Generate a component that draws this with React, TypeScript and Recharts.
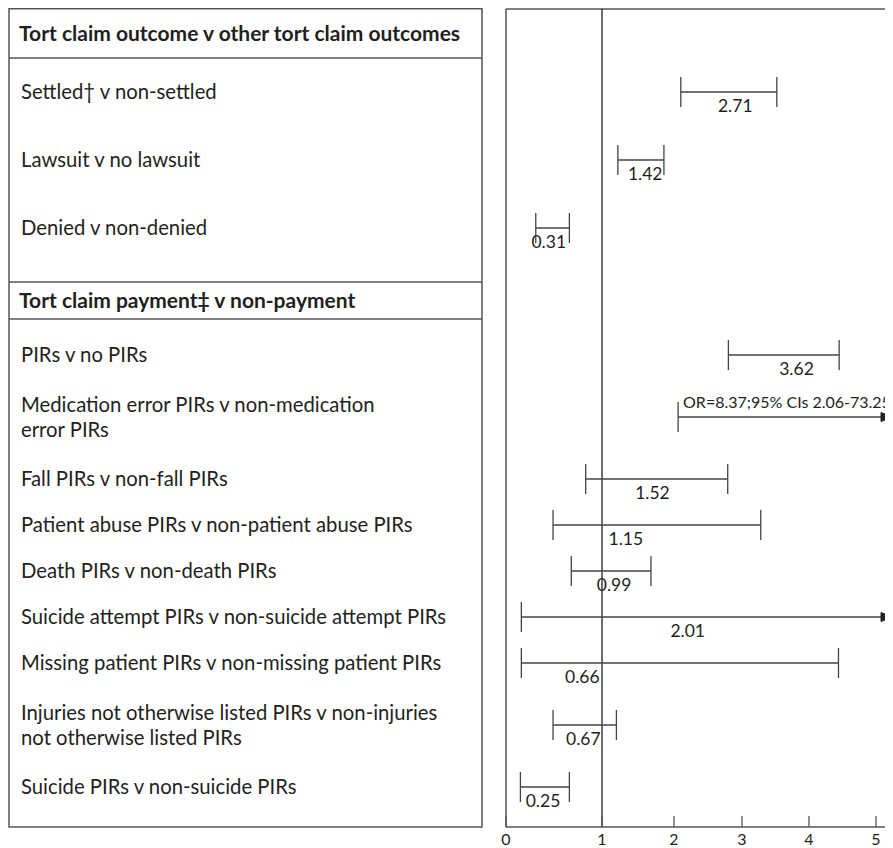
import React from 'react';
import { ComposedChart, Scatter, ErrorBar, XAxis, YAxis, ReferenceLine } from 'recharts';

// ---------- data ----------
const SECTION_TITLES = [
  'Tort claim outcome v other tort claim outcomes',
  'Tort claim payment‡ v non-payment',
];

const OUTCOME_LABELS = ['Settled† v non-settled', 'Lawsuit v no lawsuit', 'Denied v non-denied'];
const OUTCOME_OR = [2.71, 1.42, 0.31];
const OUTCOME_LO = [2.1, 1.22, 0.31];
const OUTCOME_HI = [3.52, 1.86, 0.66];

const PAYMENT_LABELS = [
  'PIRs v no PIRs',
  'Medication error PIRs v non-medication\nerror PIRs',
  'Fall PIRs v non-fall PIRs',
  'Patient abuse PIRs v non-patient abuse PIRs',
  'Death PIRs v non-death PIRs',
  'Suicide attempt PIRs v non-suicide attempt PIRs',
  'Missing patient PIRs v non-missing patient PIRs',
  'Injuries not otherwise listed PIRs v non-injuries\nnot otherwise listed PIRs',
  'Suicide PIRs v non-suicide PIRs',
];
const PAYMENT_OR = [3.62, 8.37, 1.52, 1.15, 0.99, 2.01, 0.66, 0.67, 0.25];
const PAYMENT_LO = [2.8, 2.06, 0.83, 0.49, 0.68, 0.16, 0.16, 0.49, 0.15];
const PAYMENT_HI = [4.45, 73.25, 2.79, 3.28, 1.68, 25.3, 4.44, 1.2, 0.66];

const X_TICKS = [0, 1, 2, 3, 4, 5];

// ---------- axis (irregularly spaced, as in the source figure) ----------
const AXIS_KNOTS = [0, 1, 2, 3, 4, 5, 5.25];
const AXIS_KNOT_FRACTIONS = [0, 0.2481, 0.4341, 0.6098, 0.7829, 0.9561, 1];
const X_MAX = AXIS_KNOTS[AXIS_KNOTS.length - 1];

function makeKnotScale(): any {
  let dom: number[] = [0, X_MAX];
  let rng: number[] = [0, 1];
  const scale: any = (v: number) => {
    const n = AXIS_KNOTS.length;
    let i = 0;
    while (i < n - 2 && v > AXIS_KNOTS[i + 1]) i++;
    const t = (v - AXIS_KNOTS[i]) / (AXIS_KNOTS[i + 1] - AXIS_KNOTS[i]);
    const f = AXIS_KNOT_FRACTIONS[i] + t * (AXIS_KNOT_FRACTIONS[i + 1] - AXIS_KNOT_FRACTIONS[i]);
    return rng[0] + f * (rng[1] - rng[0]);
  };
  scale.domain = (d?: number[]) => {
    if (d === undefined) return dom;
    dom = [...d];
    return scale;
  };
  scale.range = (r?: number[]) => {
    if (r === undefined) return rng;
    rng = [...r];
    return scale;
  };
  scale.copy = () => makeKnotScale().domain(dom).range(rng);
  scale.ticks = () => X_TICKS;
  return scale;
}

// ---------- layout ----------
const CHART_W = 886;
const CHART_H = 840;
const MARGIN = { top: 1, right: 1, bottom: 0, left: 0 };
const X_AXIS_H = 21;
const Y_AXIS_W = 498;
const PLOT_H = CHART_H - MARGIN.top - MARGIN.bottom - X_AXIS_H;
const TABLE_LEFT = 1;
const TABLE_RIGHT = 474;
const LINE_H = 25;
const EXTRA_LINE_H = 32;
const SECTION_STYLE = [
  { headerH: 49, rowH: 68, padTop: 0, padBottom: 20 },
  { headerH: 37, rowH: 46, padTop: 13, padBottom: 0 },
];
const FONT = 'Lato, "Open Sans", sans-serif';
const TEXT = '#231f20';
const BORDER = '#555';
const CI = '#444';

type TRow = {
  kind: 'header' | 'item';
  label: string;
  top: number;
  bottom: number;
  y: number;
  first?: boolean;
  or?: number;
  lo?: number;
  hi?: number;
};

const SECTIONS = [
  { title: SECTION_TITLES[0], labels: OUTCOME_LABELS, or: OUTCOME_OR, lo: OUTCOME_LO, hi: OUTCOME_HI },
  { title: SECTION_TITLES[1], labels: PAYMENT_LABELS, or: PAYMENT_OR, lo: PAYMENT_LO, hi: PAYMENT_HI },
];

function buildRows(): TRow[] {
  const rows: TRow[] = [];
  let cursor = 0;
  SECTIONS.forEach((sec, si) => {
    const st = SECTION_STYLE[si];
    rows.push({ kind: 'header', label: sec.title, top: cursor, bottom: cursor + st.headerH, y: cursor + st.headerH / 2, first: si === 0 });
    cursor += st.headerH + st.padTop;
    sec.labels.forEach((lab, i) => {
      const lines = lab.split('\n').length;
      const h = st.rowH + (lines - 1) * EXTRA_LINE_H;
      rows.push({ kind: 'item', label: lab, top: cursor, bottom: cursor + h, y: cursor + h / 2, or: sec.or[i], lo: sec.lo[i], hi: sec.hi[i] });
      cursor += h;
    });
    cursor += st.padBottom;
  });
  return rows;
}

const ROWS = buildRows();
const ITEMS = ROWS.filter((r) => r.kind === 'item');

const ciData = ITEMS.map((r) => ({
  x: r.or as number,
  y: r.y,
  err: [(r.or as number) - (r.lo as number), (r.hi as number) - (r.or as number)],
}));
const overflowLabelData = ITEMS.filter((r) => (r.or as number) > X_MAX).map((r) => ({
  x: r.lo as number,
  y: r.y,
  text: `OR=${(r.or as number).toFixed(2)};95% CIs ${(r.lo as number).toFixed(2)}-${(r.hi as number).toFixed(2)}`,
}));
const arrowData = ITEMS.filter((r) => (r.hi as number) > X_MAX).map((r) => ({ x: X_MAX, y: r.y }));

// ---------- custom renderers ----------
function TableTick(props: any) {
  const { y, payload } = props;
  const row = ROWS.find((r) => Math.abs(r.y - payload.value) < 1e-6);
  if (!row) return null;
  if (row.kind === 'header') {
    const top = y - (row.y - row.top);
    const bottom = y + (row.bottom - row.y);
    return (
      <g>
        {row.first ? (
          <rect x={TABLE_LEFT} y={0.75} width={TABLE_RIGHT - TABLE_LEFT} height={MARGIN.top + PLOT_H - 0.75} fill="none" stroke={BORDER} strokeWidth={1.5} />
        ) : (
          <line x1={TABLE_LEFT} x2={TABLE_RIGHT} y1={top} y2={top} stroke={BORDER} strokeWidth={1.5} />
        )}
        <line x1={TABLE_LEFT} x2={TABLE_RIGHT} y1={bottom} y2={bottom} stroke={BORDER} strokeWidth={1.5} />
        <text x={11} y={y} dy="0.35em" fontFamily={FONT} fontWeight={700} fontSize={21} fill={TEXT}>
          {row.label}
        </text>
      </g>
    );
  }
  const lines = row.label.split('\n');
  return (
    <g>
      {lines.map((ln, i) => (
        <text key={i} x={13} y={y + (i - (lines.length - 1) / 2) * LINE_H} dy="0.35em" fontFamily={FONT} fontSize={20.3} fill={TEXT}>
          {ln}
        </text>
      ))}
    </g>
  );
}

function XTick(props: any) {
  const { x, y, payload } = props;
  return (
    <g>
      <line x1={x} x2={x} y1={y} y2={y - 11} stroke={BORDER} strokeWidth={1.3} />
      <text x={x} y={y + 18} textAnchor="middle" fontFamily={FONT} fontSize={16} fill={TEXT}>
        {payload.value}
      </text>
    </g>
  );
}

function OrLabel(props: any) {
  const { cx, cy, payload } = props;
  if (payload.x > X_MAX) return <g />;
  return (
    <text x={cx + 13} y={cy + 20} textAnchor="middle" fontFamily={FONT} fontSize={17.5} fill={TEXT}>
      {payload.x.toFixed(2)}
    </text>
  );
}

function OverflowLabel(props: any) {
  const { cx, cy, payload } = props;
  return (
    <text x={cx + 5} y={cy - 9} fontFamily={FONT} fontSize={16} fill={TEXT}>
      {payload.text}
    </text>
  );
}

function ArrowHead(props: any) {
  const { cx, cy } = props;
  return <polygon points={`${cx},${cy} ${cx - 12},${cy - 4.5} ${cx - 12},${cy + 4.5}`} fill="#222" stroke="#222" strokeWidth={1} />;
}

export default function App() {
  const xScale = makeKnotScale();
  return (
    <div style={{ width: 885, height: CHART_H, overflow: 'hidden', position: 'relative', background: '#fff' }}>
      <ComposedChart width={CHART_W} height={CHART_H} margin={MARGIN}>
        <XAxis
          type="number"
          dataKey="x"
          scale={xScale}
          domain={[0, X_MAX]}
          allowDataOverflow
          ticks={X_TICKS}
          interval={0}
          tick={(p: any) => <XTick {...p} />}
          tickLine={false}
          tickSize={0}
          tickMargin={0}
          height={X_AXIS_H}
          axisLine={{ stroke: BORDER, strokeWidth: 1.5 }}
        />
        <YAxis
          type="number"
          dataKey="y"
          domain={[0, PLOT_H]}
          reversed
          allowDataOverflow
          ticks={ROWS.map((r) => r.y)}
          interval={0}
          tick={(p: any) => <TableTick {...p} />}
          tickLine={false}
          tickSize={0}
          tickMargin={0}
          width={Y_AXIS_W}
          axisLine={{ stroke: BORDER, strokeWidth: 1.5 }}
        />
        <ReferenceLine y={0} stroke={BORDER} strokeWidth={1.5} />
        <ReferenceLine x={1} stroke="#222" strokeWidth={1.3} />
        <Scatter data={ciData} shape={(p: any) => <OrLabel {...p} />} isAnimationActive={false}>
          <ErrorBar dataKey="err" direction="x" width={15} stroke={CI} strokeWidth={1.3} isAnimationActive={false} />
        </Scatter>
        <Scatter data={overflowLabelData} shape={(p: any) => <OverflowLabel {...p} />} isAnimationActive={false} />
        <Scatter data={arrowData} shape={(p: any) => <ArrowHead {...p} />} isAnimationActive={false} />
      </ComposedChart>
    </div>
  );
}
